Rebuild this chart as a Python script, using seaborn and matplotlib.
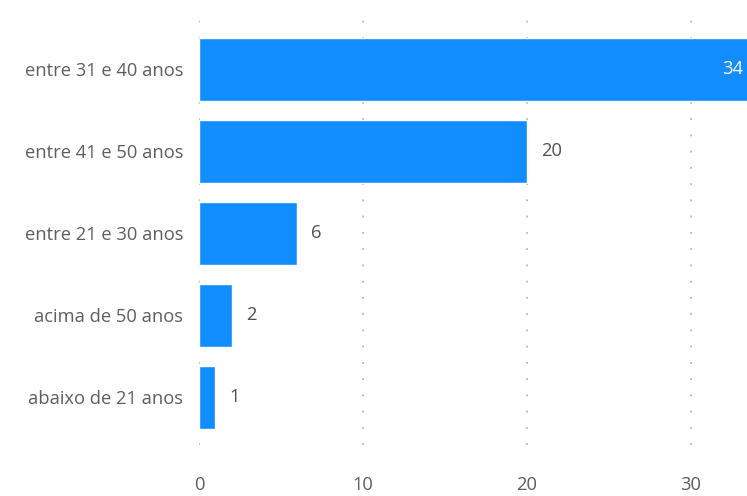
import matplotlib
matplotlib.use("Agg")
import matplotlib.pyplot as plt
import seaborn as sns
import pandas as pd

categories = ["entre 31 e 40 anos", "entre 41 e 50 anos", "entre 21 e 30 anos",
              "acima de 50 anos", "abaixo de 21 anos"]
counts = [34, 20, 6, 2, 1]
x_ticks = [0, 10, 20, 30]

df = pd.DataFrame({"faixa": categories, "total": counts})

sns.set_theme(style="white")
plt.rcParams["font.family"] = ["Open Sans", "DejaVu Sans"]

BAR = "#118DFF"
TEXT = "#605E5C"
FS = 13.2

fig = plt.figure(figsize=(7.47, 4.96), dpi=100)
ax = fig.add_axes([199 / 747, 1 - 445 / 496, 1 - 199 / 747, (445 - 12) / 496])

sns.barplot(data=df, y="faixa", x="total", order=categories, color=BAR,
            width=0.77, saturation=1, orient="h", ax=ax)

ax.set_xlim(0, 548 / 16.4)
ax.set_ylim(4.58, -0.70)
ax.set_xticks(x_ticks)
ax.set_xticklabels([str(t) for t in x_ticks])
ax.xaxis.grid(True, linestyle=(0, (1, 8)), color="#B8B6B4", linewidth=1.3)
ax.yaxis.grid(False)
ax.set_axisbelow(True)
for s in ax.spines.values():
    s.set_visible(False)
ax.set_xlabel("")
ax.set_ylabel("")
ax.tick_params(axis="both", length=0, labelsize=FS, labelcolor=TEXT)
ax.tick_params(axis="y", pad=11.5)
ax.tick_params(axis="x", pad=22)

xmax = ax.get_xlim()[1]
for i, v in enumerate(counts):
    if v > xmax * 0.9:
        ax.annotate(str(v), xy=(xmax, i), xytext=(-3, 0), textcoords="offset points",
                    ha="right", va="center", color="white", fontsize=FS)
    else:
        ax.annotate(str(v), xy=(v, i), xytext=(10, 0), textcoords="offset points",
                    ha="left", va="center", color="#505050", fontsize=FS)

fig.savefig("out.png", dpi=100)
